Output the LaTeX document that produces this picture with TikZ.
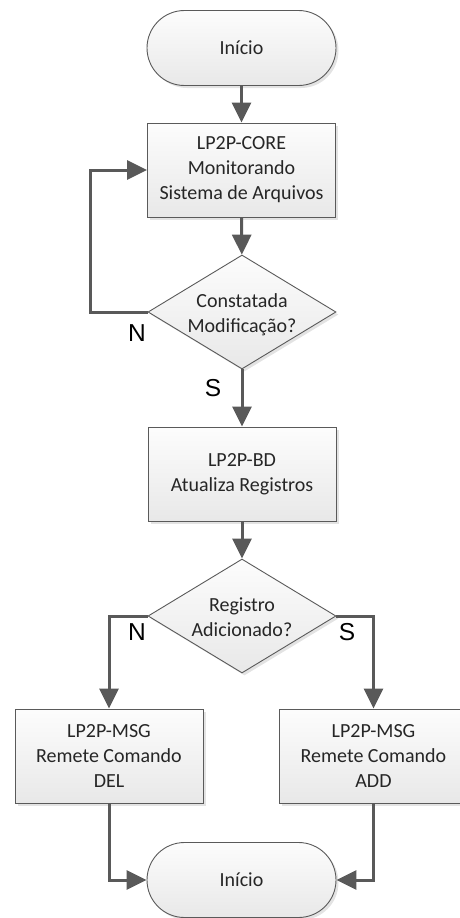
\documentclass[tikz,border=0pt]{standalone}
\usepackage{fontspec}
\setmainfont{Carlito}
\newfontfamily\labelfont{Liberation Sans}
\usetikzlibrary{shapes.misc,shapes.geometric,arrows.meta,shadows}
\definecolor{edgegray}{HTML}{5A5A5A}
\definecolor{linkgray}{HTML}{595959}
\definecolor{inkgray}{HTML}{262626}
\tikzset{
  x=1pt, y=-1pt,
  shapefill/.style={draw=edgegray, line width=0.9pt,
    top color=black!1, bottom color=black!9,
    drop shadow={shadow xshift=2.5pt, shadow yshift=-2.5pt, fill=black!18, opacity=0.6}},
  terminal/.style={shapefill, rounded rectangle, minimum width=189pt, minimum height=75pt, inner sep=0pt},
  process/.style={shapefill, rectangle, minimum width=188pt, minimum height=94pt, inner sep=0pt},
  decision/.style={shapefill, diamond, minimum width=188pt, minimum height=114pt, inner sep=0pt},
  boxtext/.style={text=inkgray, align=center, font=\fontsize{20}{25}\selectfont, inner sep=0pt},
  flowlabel/.style={text=black, font=\labelfont\fontsize{24.5}{28}\selectfont, inner sep=0pt},
  link/.style={draw=linkgray, line width=3pt, -{Triangle[length=20pt, width=19pt]}},
}
\begin{document}
\begin{tikzpicture}
\useasboundingbox (0,0) rectangle (460,918);

% start / end terminals
\node[terminal] (start) at (241.5,48) {};
\node[boxtext] (starttxt) at (start) {Início};
\node[terminal] (stop) at (241.5,880) {};
\node[boxtext] (stoptxt) at (stop) {Início};

% processing steps
\node[process] (core) at (241.5,170) {};
\node[boxtext] (coretxt) at (core) {LP2P-CORE\\Monitorando\\Sistema de Arquivos};
\node[process] (bd) at (242,474) {};
\node[boxtext] (bdtxt) at (bd) {LP2P-BD\\Atualiza Registros};
\node[process] (del) at (109,756) {};
\node[boxtext] (deltxt) at (del) {LP2P-MSG\\Remete Comando\\DEL};
\node[process] (add) at (373.5,756) {};
\node[boxtext] (addtxt) at (add) {LP2P-MSG\\Remete Comando\\ADD};

% decisions
\node[decision] (dec1) at (242,312) {};
\node[boxtext] (dec1txt) at (242,315) {Constatada\\Modificação?};
\node[decision] (dec2) at (242,616) {};
\node[boxtext] (dec2txt) at (242,617) {Registro\\Adicionado?};

% connectors
\coordinate (loopc) at (90,312);
\draw[link] (start) -- (core);
\draw[link] (core) -- (dec1);
\draw[link] (dec1.west) -- (loopc) |- (core.west);
\draw[link] (dec1) -- (bd);
\draw[link] (bd) -- (dec2);
\draw[link] (dec2.west) -| (del.north);
\draw[link] (dec2.east) -| (add.north);
\draw[link] (del.south) |- (stop.west);
\draw[link] (add.south) |- (stop.east);

% branch labels
\node[flowlabel] (n1) at (137,333) {N};
\node[flowlabel] (s1) at (213,388) {S};
\node[flowlabel] (n2) at (137,632) {N};
\node[flowlabel] (s2) at (347,632) {S};
\end{tikzpicture}
\end{document}
